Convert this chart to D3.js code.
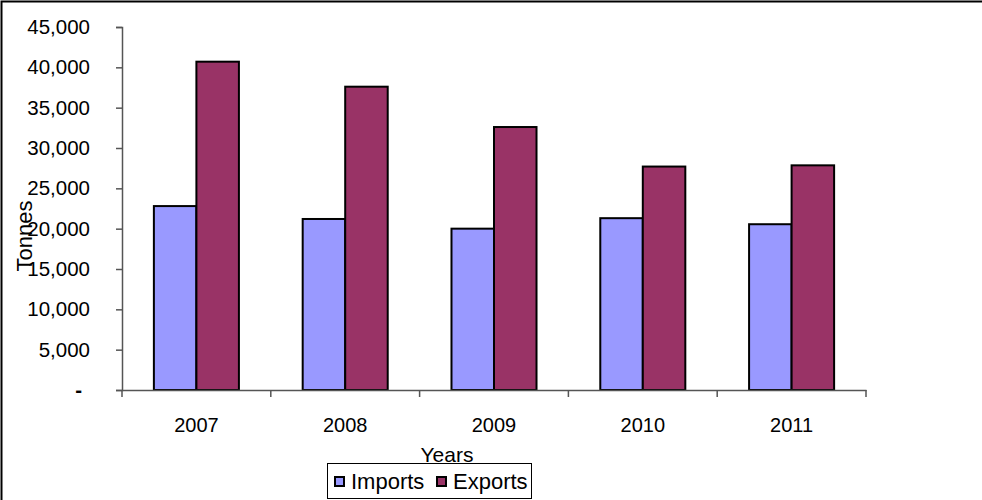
<!DOCTYPE html>
<html lang="en">
<head>
    <meta charset="UTF-8">
    <title>Imports and Exports</title>
    <script src="https://cdnjs.cloudflare.com/ajax/libs/d3/7.8.5/d3.min.js"></script>
    <style>
        body { margin: 0; background: #fff; }
        text { font-family: "Liberation Sans", Arial, sans-serif; fill: #000; }
    </style>
</head>
<body>
<svg id="chart" width="982" height="500"></svg>
<script>
    // data
    var years = ["2007", "2008", "2009", "2010", "2011"];
    var seriesNames = ["Imports", "Exports"];
    var imports = [22800, 21200, 20000, 21300, 20550];
    var exports = [40700, 37600, 32600, 27700, 27850];
    var yTicks = [0, 5000, 10000, 15000, 20000, 25000, 30000, 35000, 40000, 45000];

    var colors = { Imports: "#9999FF", Exports: "#993366" };

    var svg = d3.select("#chart");

    // outer frame (only top and left visible)
    svg.append("path")
        .attr("d", "M1.5,500 V1.5 H982")
        .attr("fill", "none")
        .attr("stroke", "#000")
        .attr("stroke-width", 2);

    var x = d3.scaleBand().domain(years).range([122, 866]).paddingInner(0).paddingOuter(0);
    var x1 = d3.scaleBand().domain(seriesNames).range([0, x.bandwidth()]).paddingInner(0).paddingOuter(0.75);
    var y = d3.scaleLinear().domain([0, 45000]).range([390, 27]);

    var rows = years.map(function(yr, i) {
        return { year: yr, Imports: imports[i], Exports: exports[i] };
    });

    // bars
    var groups = svg.append("g").selectAll("g")
        .data(rows)
        .enter().append("g")
        .attr("transform", function(d) { return "translate(" + x(d.year) + ",0)"; });

    groups.selectAll("rect")
        .data(function(d) { return seriesNames.map(function(k) { return { key: k, value: d[k] }; }); })
        .enter().append("rect")
        .attr("x", function(d) { return x1(d.key); })
        .attr("y", function(d) { return y(d.value); })
        .attr("width", x1.bandwidth())
        .attr("height", function(d) { return y(0) - y(d.value); })
        .attr("fill", function(d) { return colors[d.key]; })
        .attr("stroke", "#000")
        .attr("stroke-width", 2);

    // y axis
    var yAxis = svg.append("g")
        .attr("transform", "translate(122,0)")
        .call(d3.axisLeft(y)
            .tickValues(yTicks)
            .tickSize(6)
            .tickPadding(26)
            .tickFormat(function(v) { return v === 0 ? "-" : d3.format(",")(v); }));
    yAxis.select(".domain").attr("stroke", "#555").attr("stroke-width", 1.5);
    yAxis.selectAll(".tick line").attr("stroke", "#555").attr("stroke-width", 1.5);
    yAxis.selectAll(".tick text")
        .style("font-size", "20.5px")
        .attr("fill", "#000")
        .attr("dx", function(v) { return v === 0 ? -8 : 0; })
        .style("font-weight", function(v) { return v === 0 ? "bold" : null; });

    // x axis
    var xAxis = svg.append("g")
        .attr("transform", "translate(0,390)")
        .call(d3.axisBottom(x).tickSize(0).tickPadding(28));
    xAxis.select(".domain").attr("stroke", "#555").attr("stroke-width", 1.5);
    xAxis.selectAll(".tick text").style("font-size", "20px").attr("fill", "#000");

    var bounds = years.map(function(d) { return x(d); }).concat([x(years[years.length - 1]) + x.bandwidth()]);
    xAxis.selectAll(".bound")
        .data(bounds)
        .enter().append("line")
        .attr("x1", function(d) { return d; })
        .attr("x2", function(d) { return d; })
        .attr("y1", 0)
        .attr("y2", 7)
        .attr("stroke", "#555")
        .attr("stroke-width", 1.5);

    // axis titles
    svg.append("text")
        .attr("transform", "translate(32,236) rotate(-90)")
        .attr("text-anchor", "middle")
        .style("font-size", "22px")
        .text("Tonnes");

    svg.append("text")
        .attr("x", 447)
        .attr("y", 462)
        .attr("text-anchor", "middle")
        .style("font-size", "21px")
        .text("Years");

    // legend
    var legend = svg.append("g");
    legend.append("rect")
        .attr("x", 327.5).attr("y", 463.5)
        .attr("width", 204).attr("height", 35)
        .attr("fill", "#fff")
        .attr("stroke", "#000")
        .attr("stroke-width", 1);

    var legendX = [335, 437];
    seriesNames.forEach(function(k, i) {
        legend.append("rect")
            .attr("x", legendX[i]).attr("y", 477)
            .attr("width", 9).attr("height", 9)
            .attr("fill", colors[k])
            .attr("stroke", "#000")
            .attr("stroke-width", 2);
        legend.append("text")
            .attr("x", legendX[i] + 16)
            .attr("y", 489)
            .style("font-size", "22px")
            .text(k);
    });
</script>
</body>
</html>
